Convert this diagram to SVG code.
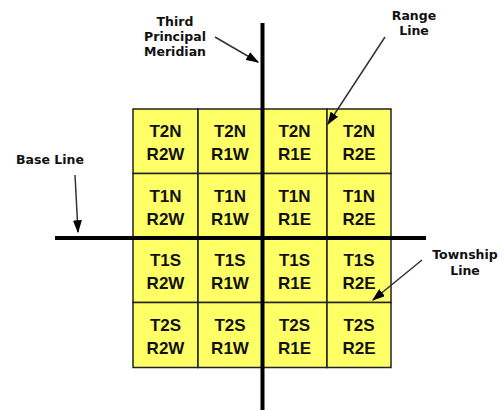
<svg xmlns="http://www.w3.org/2000/svg" width="504" height="410" viewBox="0 0 504 410">
<defs>
<style>
.cell{fill:#ffff66;stroke:#222;stroke-width:1.5}
.ct{font-family:"Liberation Sans",Arial,sans-serif;font-weight:bold;font-size:17px;fill:#111;text-anchor:middle}
.lb{font-family:"DejaVu Sans",Verdana,sans-serif;font-weight:bold;font-size:12.5px;fill:#111;text-anchor:middle}
.axis{stroke:#000;stroke-width:4;fill:none}
.ptr{stroke:#333;stroke-width:1.5;fill:none;marker-end:url(#ah)}
</style>
<marker id="ah" viewBox="0 0 10 10" refX="9" refY="5" markerWidth="13" markerHeight="9" markerUnits="userSpaceOnUse" orient="auto" preserveAspectRatio="none">
<path d="M0,0 L10,5 L0,10 Z" fill="#000"/>
</marker>
</defs>
<rect width="504" height="410" fill="#fff"/>
<g id="grid">
<g id="c-t2n-r2w"><rect class="cell" x="133" y="109" width="65" height="64.5"/><text class="ct" x="165.5" y="137">T2N</text><text class="ct" x="165.5" y="160">R2W</text></g>
<g id="c-t2n-r1w"><rect class="cell" x="198" y="109" width="64.5" height="64.5"/><text class="ct" x="230" y="137">T2N</text><text class="ct" x="230" y="160">R1W</text></g>
<g id="c-t2n-r1e"><rect class="cell" x="262.5" y="109" width="64.5" height="64.5"/><text class="ct" x="294.5" y="137">T2N</text><text class="ct" x="294.5" y="160">R1E</text></g>
<g id="c-t2n-r2e"><rect class="cell" x="327" y="109" width="64" height="64.5"/><text class="ct" x="359" y="137">T2N</text><text class="ct" x="359" y="160">R2E</text></g>
<g id="c-t1n-r2w"><rect class="cell" x="133" y="173.5" width="65" height="64.5"/><text class="ct" x="165.5" y="201.5">T1N</text><text class="ct" x="165.5" y="224.5">R2W</text></g>
<g id="c-t1n-r1w"><rect class="cell" x="198" y="173.5" width="64.5" height="64.5"/><text class="ct" x="230" y="201.5">T1N</text><text class="ct" x="230" y="224.5">R1W</text></g>
<g id="c-t1n-r1e"><rect class="cell" x="262.5" y="173.5" width="64.5" height="64.5"/><text class="ct" x="294.5" y="201.5">T1N</text><text class="ct" x="294.5" y="224.5">R1E</text></g>
<g id="c-t1n-r2e"><rect class="cell" x="327" y="173.5" width="64" height="64.5"/><text class="ct" x="359" y="201.5">T1N</text><text class="ct" x="359" y="224.5">R2E</text></g>
<g id="c-t1s-r2w"><rect class="cell" x="133" y="238" width="65" height="64.5"/><text class="ct" x="165.5" y="266">T1S</text><text class="ct" x="165.5" y="289">R2W</text></g>
<g id="c-t1s-r1w"><rect class="cell" x="198" y="238" width="64.5" height="64.5"/><text class="ct" x="230" y="266">T1S</text><text class="ct" x="230" y="289">R1W</text></g>
<g id="c-t1s-r1e"><rect class="cell" x="262.5" y="238" width="64.5" height="64.5"/><text class="ct" x="294.5" y="266">T1S</text><text class="ct" x="294.5" y="289">R1E</text></g>
<g id="c-t1s-r2e"><rect class="cell" x="327" y="238" width="64" height="64.5"/><text class="ct" x="359" y="266">T1S</text><text class="ct" x="359" y="289">R2E</text></g>
<g id="c-t2s-r2w"><rect class="cell" x="133" y="302.5" width="65" height="65"/><text class="ct" x="165.5" y="330.5">T2S</text><text class="ct" x="165.5" y="353.5">R2W</text></g>
<g id="c-t2s-r1w"><rect class="cell" x="198" y="302.5" width="64.5" height="65"/><text class="ct" x="230" y="330.5">T2S</text><text class="ct" x="230" y="353.5">R1W</text></g>
<g id="c-t2s-r1e"><rect class="cell" x="262.5" y="302.5" width="64.5" height="65"/><text class="ct" x="294.5" y="330.5">T2S</text><text class="ct" x="294.5" y="353.5">R1E</text></g>
<g id="c-t2s-r2e"><rect class="cell" x="327" y="302.5" width="64" height="65"/><text class="ct" x="359" y="330.5">T2S</text><text class="ct" x="359" y="353.5">R2E</text></g>
</g>
<g id="axes">
<line class="axis" x1="262.5" y1="23" x2="262.5" y2="410"/>
<line class="axis" x1="55" y1="238" x2="426" y2="238"/>
</g>
<g id="labels">
<g id="meridian-label"><text class="lb" x="175" y="26">Third</text><text class="lb" x="175" y="41">Principal</text><text class="lb" x="175" y="56">Meridian</text></g>
<g id="range-label"><text class="lb" x="414" y="20">Range</text><text class="lb" x="414" y="35">Line</text></g>
<g id="base-label"><text class="lb" x="50" y="164">Base Line</text></g>
<g id="township-label"><text class="lb" x="465" y="259">Township</text><text class="lb" x="465" y="274.5">Line</text></g>
</g>
<g id="connectors">
<line class="ptr" x1="215" y1="37" x2="258" y2="62"/>
<line class="ptr" x1="385" y1="37" x2="328" y2="124"/>
<line class="ptr" x1="75" y1="175" x2="78" y2="232"/>
<line class="ptr" x1="422" y1="260" x2="373" y2="300"/>
</g>
</svg>
